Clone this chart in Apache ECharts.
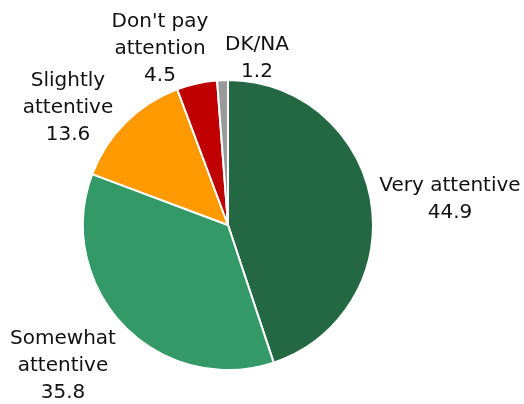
<!DOCTYPE html>
<html><head><meta charset="utf-8">
<script src="https://cdn.jsdelivr.net/npm/echarts@6/dist/echarts.min.js"></script>
<style>html,body{margin:0;padding:0;background:#fff}#c{width:524px;height:404px}</style>
</head><body><div id="c"></div>
<script>
const categories = ["Very attentive", "Somewhat attentive", "Slightly attentive", "Don't pay attention", "DK/NA"];
const labelNames = ["Very attentive", "Somewhat\nattentive", "Slightly\nattentive", "Don't pay\nattention", "DK/NA"];
const values = [44.9, 35.8, 13.6, 4.5, 1.2];
const colors = ["#236843", "#339966", "#FF9900", "#C00000", "#999999"];
const labelPos = [[450, 199], [63, 366], [68, 108], [160, 49], [257, 58]];

const chart = echarts.init(document.getElementById('c'));
chart.setOption({
  animation: false,
  series: [{
    type: 'pie',
    center: [228, 225],
    radius: 145,
    startAngle: 90,
    clockwise: true,
    data: categories.map((c, i) => ({ name: c, value: values[i], itemStyle: { color: colors[i] } })),
    itemStyle: { borderColor: '#fff', borderWidth: 2 },
    label: {
      show: true,
      formatter: p => labelNames[p.dataIndex] + '\n' + p.value.toFixed(1),
      fontFamily: 'DejaVu Sans',
      fontSize: 20,
      lineHeight: 27,
      color: '#111',
      align: 'center',
      overflow: 'none',
      width: 300
    },
    labelLine: { show: false },
    labelLayout: p => ({ x: labelPos[p.dataIndex][0], y: labelPos[p.dataIndex][1], align: 'center', verticalAlign: 'middle' })
  }]
});
</script></body></html>
